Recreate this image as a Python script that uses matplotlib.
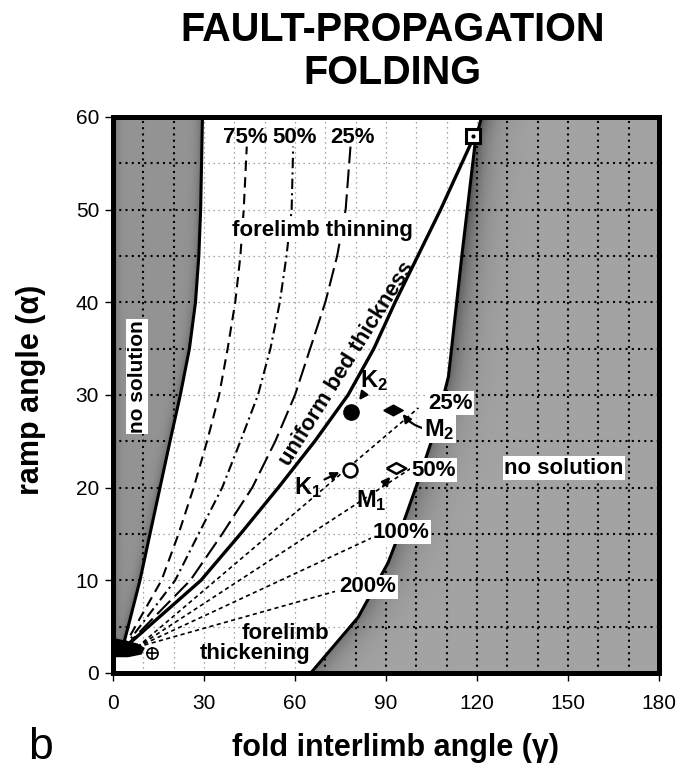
import numpy as np
import matplotlib.pyplot as plt
from matplotlib.patches import Polygon
from matplotlib.ticker import MultipleLocator

plt.rcParams['font.family'] = ['Liberation Sans', 'DejaVu Sans']
plt.rcParams['mathtext.fontset'] = 'custom'
plt.rcParams['mathtext.rm'] = 'Liberation Sans:bold'
plt.rcParams['mathtext.it'] = 'Liberation Sans:bold'

# curves: x = fold interlimb angle, y = ramp angle (deg)
thin_y = [2.5, 10, 15, 20, 25, 30, 35, 40, 45, 50, 56.8]
thin75_x = [3, 16, 21.6, 26.6, 31, 35, 37.8, 40.3, 42, 43.1, 44.1]
thin50_x = [3, 20.5, 28.2, 36, 42, 47.8, 51.9, 55, 57.2, 58.9, 59.4]
thin25_x = [3, 25.5, 36, 45.9, 53.5, 60, 65, 70, 73.9, 76.7, 78.3]

uniform_x = [3, 29, 42, 54.5, 66.5, 77.5, 86, 93, 100.5, 108, 118.5]
uniform_y = [2.5, 10, 15, 20, 25, 30, 35, 40, 45, 50, 57.5]

thick_labels = ['25%', '50%', '100%', '200%']
thick_x0, thick_y0 = 8, 2.8
thick_end_x = [100.7, 98.3, 87.4, 73.2]
thick_end_y = [28.6, 22.1, 14.9, 8.8]

# limits of the "no solution" fields
left_x = [3, 5, 8.9, 12.2, 15.5, 18.8, 22.2, 25.2, 27.2, 28.3, 28.9, 29.2, 29.5]
left_y = [2.5, 5, 10, 15, 20, 25, 30, 35, 40, 45, 50, 55, 60]
right_x = [65.2, 73, 80.8, 90.7, 95.5, 100.7, 106, 110.6, 115, 119.5, 121.5]
right_y = [0, 3, 6, 11.9, 16, 20.8, 26, 32, 45, 57.5, 60]

# examples
sample_names = ['K_2', 'K_1', 'M_2', 'M_1']
sample_x = [78.5, 78.1, 92.4, 93.4]
sample_y = [28.2, 21.9, 28.4, 22.1]
limit_x, limit_y = 118.8, 58
cross_x, cross_y = 12.9, 2.2

fig = plt.figure(figsize=(6.79, 7.68), dpi=100)
ax = fig.add_axes([0.1664, 0.1237, 0.8041, 0.724])

# shaded fields (grey, darker next to the limit curves)
gx = np.linspace(0, 180, 1441)
gy = np.linspace(0, 60, 721)
X, Y = np.meshgrid(gx, gy)
xl = np.interp(Y, left_y, left_x)
xr = np.interp(Y, right_y, right_x)
shade = np.full(X.shape, np.nan)
lm = (X < xl) & (Y > 2.2)
shade[lm] = 0.58 - 0.18 * np.exp(-(xl - X)[lm] / 1.5) - 0.15 * np.exp(-X[lm] / 1.5)
rm = X > xr
shade[rm] = (0.64 - 0.2 * np.exp(-(X - xr)[rm] / 6)
             - 0.15 * np.exp(-(X - xr)[rm] / 2.5) * np.clip((Y[rm] - 20) / 30, 0, 1))
ax.imshow(np.ma.masked_invalid(shade), extent=[0, 180, 0, 60], origin='lower',
          cmap='gray', vmin=0, vmax=1, aspect='auto', interpolation='nearest', zorder=1)

left_poly = Polygon([(0, 2.2)] + list(zip(left_x, left_y)) + [(0, 60)],
                    closed=True, fc='none', ec='none')
right_poly = Polygon(list(zip(right_x, right_y)) + [(180, 60), (180, 0)],
                     closed=True, fc='none', ec='none')
ax.add_patch(left_poly)
ax.add_patch(right_poly)

# grid: light dots on white, black dots on the shaded fields
ax.xaxis.set_minor_locator(MultipleLocator(10))
ax.yaxis.set_minor_locator(MultipleLocator(5))
ax.set_axisbelow(True)
ax.grid(which='both', color='#8a8a8a', linestyle=(0, (1, 3)), lw=0.9)
for poly in (left_poly, right_poly):
    vl = ax.vlines(np.arange(10, 180, 10), 0, 60, colors='black',
                   linestyles=(0, (1, 2)), lw=1.5, zorder=2)
    hl = ax.hlines(np.arange(5, 60, 5), 0, 180, colors='black',
                   linestyles=(0, (1, 2)), lw=1.5, zorder=2)
    vl.set_clip_path(poly)
    hl.set_clip_path(poly)

# limit curves
ax.plot(left_x, left_y, color='black', lw=2.2, zorder=3)
ax.plot(right_x, right_y, color='black', lw=2.2, zorder=3)

# forelimb thinning and uniform thickness
ax.plot(thin75_x, thin_y, color='black', lw=1.5, ls=(0, (5, 3)), zorder=4)
ax.plot(thin50_x, thin_y, color='black', lw=1.5, ls=(0, (5, 2, 1, 2)), zorder=4)
ax.plot(thin25_x, thin_y, color='black', lw=1.5, ls=(0, (9, 3)), zorder=4)
ax.plot(uniform_x, uniform_y, color='black', lw=2.4, zorder=4)

# forelimb thickening
for lab, ex, ey in zip(thick_labels, thick_end_x, thick_end_y):
    ax.plot([thick_x0, ex], [thick_y0, ey], color='black', lw=1.2,
            ls=(0, (2.5, 2)), zorder=4)

# dark knot where the curves meet
ax.add_patch(Polygon([(0, 1.7), (5, 1.7), (9.5, 2.0), (10.5, 2.7), (8, 3.2),
                      (4, 3.5), (0, 3.8)], closed=True, fc='black', ec='none', zorder=5))

# examples
bw = dict(facecolor='white', edgecolor='none', pad=1)
ax.plot(sample_x[0], sample_y[0], 'o', ms=11, mfc='black', mec='black', zorder=6)
ax.plot(sample_x[1], sample_y[1], 'o', ms=10, mfc='white', mec='black', mew=1.8, zorder=6)
rhomb = [(-1, 0), (0, 0.55), (1, 0), (0, -0.55), (-1, 0)]
ax.plot(sample_x[2], sample_y[2], marker=rhomb, ms=14, mfc='black', mec='black', zorder=6)
ax.plot(sample_x[3], sample_y[3], marker=rhomb, ms=14, mfc='white', mec='black',
        mew=1.8, zorder=6)
ax.plot(limit_x, limit_y, 's', ms=10, mfc='white', mec='black', mew=2.2, zorder=6)
ax.plot(limit_x, limit_y, '.', ms=4, color='black', zorder=7)
ax.plot(cross_x, cross_y, 'o', ms=8, mfc='white', mec='black', mew=1.2, zorder=6)
ax.plot(cross_x, cross_y, '+', ms=8, color='black', mew=1.2, zorder=7)

arw = dict(arrowstyle='-|>', color='black', lw=1.6, mutation_scale=12, shrinkA=0, shrinkB=2)
ax.annotate(r'$\mathrm{K_2}$', xy=(80.6, 29.2), xytext=(86, 31.6), fontsize=17,
            ha='center', va='center', arrowprops=arw, zorder=8)
ax.annotate(r'$\mathrm{M_2}$', xy=(95, 28.2), xytext=(107.5, 26.3), fontsize=17,
            ha='center', va='center', zorder=8, bbox=bw,
            arrowprops=dict(arw, connectionstyle='arc3,rad=-0.3'))
ax.annotate(r'$\mathrm{K_1}$', xy=(75.5, 21.8), xytext=(64.2, 20), fontsize=17,
            ha='center', va='center', arrowprops=arw, zorder=8)
ax.annotate(r'$\mathrm{M_1}$', xy=(92, 21.4), xytext=(85, 18.6), fontsize=17,
            ha='center', va='center', arrowprops=arw, zorder=8)

# labels
tk = dict(fontsize=16, fontweight='bold', ha='center', va='center', zorder=8)
ax.text(43.7, 57.8, '75%', **tk)
ax.text(60, 57.8, '50%', **tk)
ax.text(78.8, 57.8, '25%', **tk)
for lab, lx, ly in zip(thick_labels, [111.3, 105.6, 95, 84.1], [29.1, 21.9, 15.2, 9.3]):
    ax.text(lx, ly, lab, bbox=bw, **tk)
ax.text(69, 47.8, 'forelimb thinning', bbox=bw, **tk)
ax.text(77, 33.4, 'uniform bed thickness', rotation=58, **tk)
ax.text(8, 32, 'no solution', rotation=90, bbox=bw, **dict(tk, fontsize=15))
ax.text(148.7, 22.1, 'no solution', bbox=bw, **tk)
ax.text(57, 4.3, 'forelimb', **tk)
ax.text(47, 2.1, 'thickening', **tk)

ax.set_xlim(0, 180)
ax.set_ylim(0, 60)
ax.set_xticks(np.arange(0, 181, 30))
ax.set_yticks(np.arange(0, 61, 10))
ax.tick_params(which='major', direction='out', length=6, width=1, labelsize=15)
ax.tick_params(axis='x', pad=9)
ax.tick_params(axis='y', pad=4)
ax.tick_params(which='minor', length=0)
for s in ax.spines.values():
    s.set_linewidth(3.6)
    s.set_zorder(9)

fig.text(0.578, 0.9466, 'FAULT-PROPAGATION', fontsize=28.5, fontweight='bold',
         ha='center', va='baseline')
fig.text(0.578, 0.8906, 'FOLDING', fontsize=28.5, fontweight='bold',
         ha='center', va='baseline')
fig.text(0.583, 0.0156, 'fold interlimb angle (γ)', fontsize=22, fontweight='bold',
         ha='center', va='baseline')
fig.text(0.0457, 0.492, 'ramp angle (α)', fontsize=22, fontweight='bold',
         rotation=90, ha='center', va='center')
fig.text(0.06, 0.012, 'b', fontsize=32, ha='center', va='baseline')

fig.savefig('out.png', dpi=100)
